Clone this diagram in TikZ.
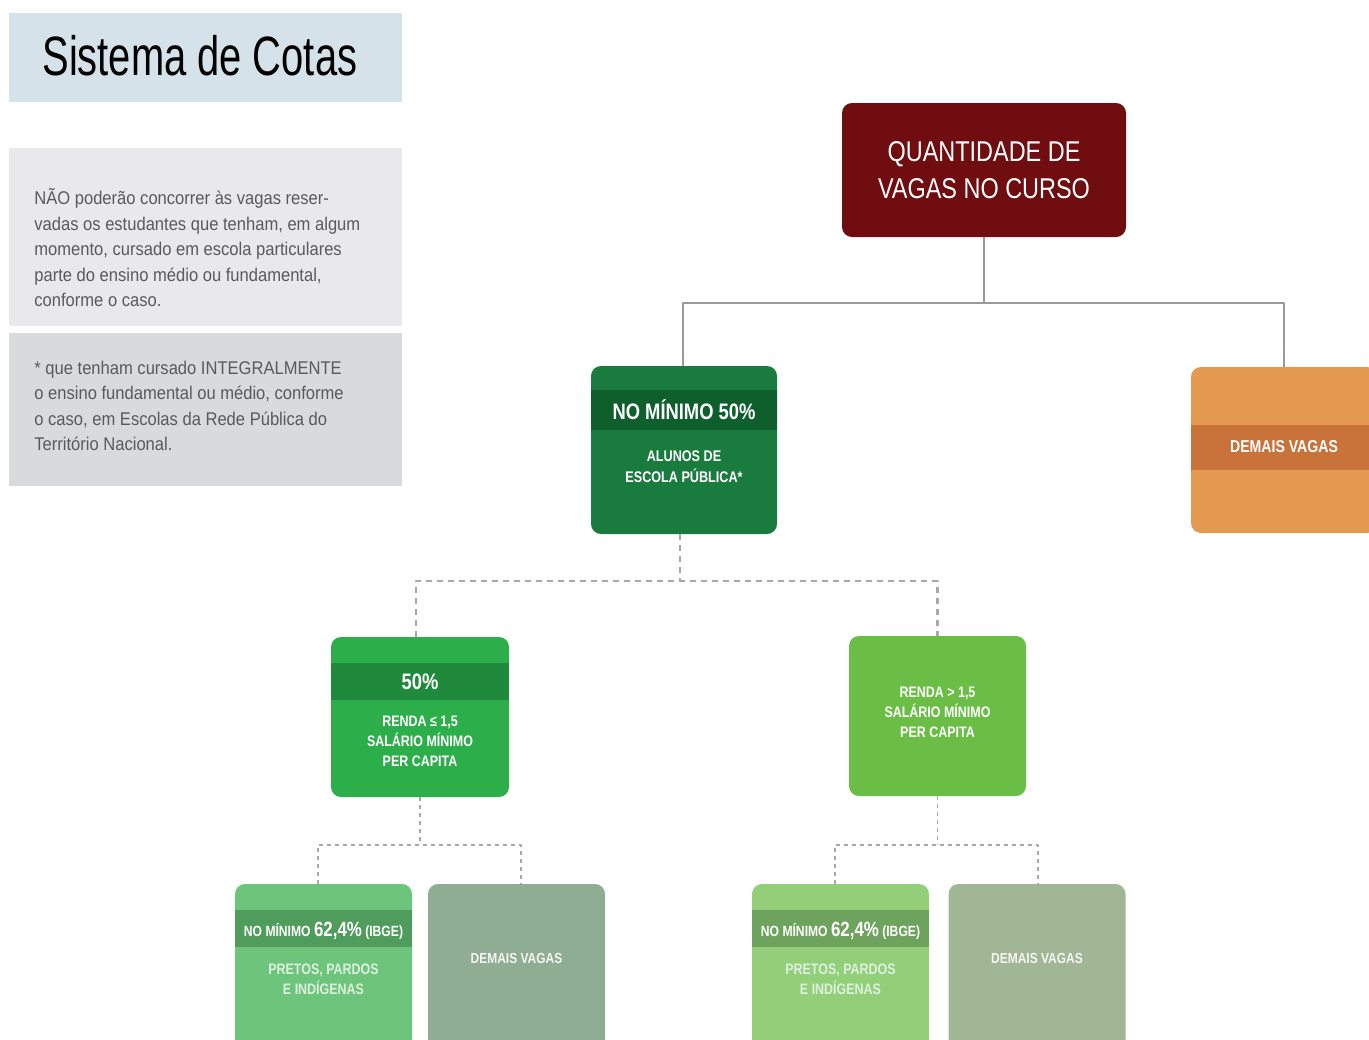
\documentclass[tikz,border=0pt]{standalone}
\usepackage{fontspec}
\setmainfont{Liberation Sans}
\newfontfamily\narrowfont{Liberation Sans}[FakeStretch=0.82]
\newfontfamily\titlefont{Liberation Sans}[FakeStretch=0.72]
\newfontfamily\panelfont{Liberation Sans}[FakeStretch=0.9]
\usetikzlibrary{positioning}
\definecolor{titlebg}{HTML}{D5E2E9}
\definecolor{notebg}{HTML}{E9E9EB}
\definecolor{starbg}{HTML}{D9DADC}
\definecolor{paneltxt}{HTML}{5A5A5A}
\definecolor{qred}{HTML}{6F0D10}
\definecolor{linegray}{HTML}{9A9A9A}
\definecolor{dashgray}{HTML}{A8A8A8}
\definecolor{pubgreen}{HTML}{1A7B3F}
\definecolor{pubband}{HTML}{0F5F2D}
\definecolor{restorange}{HTML}{E39A50}
\definecolor{restband}{HTML}{C9733B}
\definecolor{lowgreen}{HTML}{2CAE4B}
\definecolor{lowband}{HTML}{1F8A3B}
\definecolor{highgreen}{HTML}{6ABD45}
\definecolor{ppaone}{HTML}{6CC57B}
\definecolor{ppbandone}{HTML}{4F9C5C}
\definecolor{dvone}{HTML}{8EAD92}
\definecolor{ppatwo}{HTML}{93CF79}
\definecolor{ppbandtwo}{HTML}{6EA35D}
\definecolor{dvtwo}{HTML}{A1B694}
\definecolor{softtxt}{HTML}{DDF0DF}
\begin{document}
\begin{tikzpicture}[x=0.5pt, y=-0.5pt, line join=round,
	every node/.style={inner sep=0pt},
	panel/.style={minimum width=196.5pt},
	paneltext/.style={anchor=west, align=left, text=paneltxt, font=\panelfont\fontsize{9.2}{12.75}\selectfont},
	vbox/.style={rounded corners=5pt},
	head/.style={text=white, font=\narrowfont\bfseries\fontsize{11.2}{13}\selectfont},
	body/.style={text=white, align=center, font=\narrowfont\bfseries\fontsize{7.6}{10}\selectfont},
	solidline/.style={draw=linegray, line width=1.4pt},
	dashline/.style={draw=dashgray, line width=1.3pt, dash pattern=on 3pt off 2.5pt},
	dotline/.style={draw=dashgray, line width=0.6pt, dash pattern=on 2pt off 2pt}]
	\useasboundingbox (0,0) rectangle (1369,1039);
	% left panels
	\node[panel, fill=titlebg, minimum height=44.5pt] (title) at (205.5,57.5) {};
	\node[anchor=west, font=\titlefont\fontsize{27.7}{30}\selectfont] (titletext) at (42,56) {Sistema de Cotas};
	\node[panel, fill=notebg, minimum height=89pt] (note) at (205.5,237) {};
	\node[paneltext] (notetext) at (34,248) {NÃO poderão concorrer às vagas reser-\\vadas os estudantes que tenham, em algum\\momento, cursado em escola particulares\\parte do ensino médio ou fundamental,\\conforme o caso.};
	\node[panel, fill=starbg, minimum height=76.5pt] (star) at (205.5,409.5) {};
	\node[paneltext] (startext) at (34,406) {* que tenham cursado INTEGRALMENTE\\o ensino fundamental ou médio, conforme\\o caso, em Escolas da Rede Pública do\\Território Nacional.};
	% top
	\node[vbox, fill=qred, minimum width=142pt, minimum height=67pt, text=white, align=center,
		font=\narrowfont\fontsize{14.3}{18.5}\selectfont] (total) at (984,170) {QUANTIDADE DE\\VAGAS NO CURSO};
	% second level
	\node[vbox, fill=pubgreen, minimum width=93pt, minimum height=84pt] (pub) at (684,450) {};
	\fill[pubband] ([yshift=-12pt]pub.north west) rectangle ([yshift=-32pt]pub.north east);
	\node[head] (pubhead) at ([yshift=-22pt]pub.north) {NO MÍNIMO 50\%};
	\node[body, font=\narrowfont\bfseries\fontsize{7.7}{10.5}\selectfont] (pubtext) at ([yshift=-50.75pt]pub.north) {ALUNOS DE\\ESCOLA PÚBLICA*};
	\node[vbox, fill=restorange, minimum width=93pt, minimum height=83pt] (rest) at (1284,450) {};
	\fill[restband] ([yshift=-29pt]rest.north west) rectangle ([yshift=-51.5pt]rest.north east);
	\node[body, font=\narrowfont\bfseries\fontsize{8.6}{10}\selectfont] (resttext) at ([yshift=-40pt]rest.north) {DEMAIS VAGAS};
	% third level
	\node[vbox, fill=lowgreen, minimum width=89pt, minimum height=80pt] (low) at (420,717) {};
	\fill[lowband] ([yshift=-13pt]low.north west) rectangle ([yshift=-31.5pt]low.north east);
	\node[head] (lowhead) at ([yshift=-22.5pt]low.north) {50\%};
	\node[body] (lowtext) at ([yshift=-52.5pt]low.north) {RENDA ≤ 1,5\\SALÁRIO MÍNIMO\\PER CAPITA};
	\node[vbox, fill=highgreen, minimum width=88.5pt, minimum height=80pt] (high) at (937.5,716) {};
	\node[body] (hightext) at ([yshift=-38.5pt]high.north) {RENDA > 1,5\\SALÁRIO MÍNIMO\\PER CAPITA};
	% fourth level
	\foreach \n/\xc/\fc/\bc in {ppone/323.5/ppaone/ppbandone, pptwo/840.5/ppatwo/ppbandtwo}{
		\node[vbox, fill=\fc, minimum width=88.5pt, minimum height=90pt] (\n) at (\xc,974) {};
		\fill[\bc] ([yshift=-13pt]\n.north west) rectangle ([yshift=-31.5pt]\n.north east);
		\node[text=white, font=\narrowfont\bfseries\fontsize{7.4}{9}\selectfont] (\n head) at ([yshift=-23.5pt]\n.north)
			{NO MÍNIMO {\fontsize{10.3}{11}\selectfont 62,4\%} (IBGE)};
		\node[body, text=softtxt] (\n text) at ([yshift=-48pt]\n.north) {PRETOS, PARDOS\\E INDÍGENAS};
	}
	\foreach \n/\xc/\fc in {dvone/516.5/dvone, dvtwo/1037/dvtwo}{
		\node[vbox, fill=\fc, minimum width=88.5pt, minimum height=90pt] (\n) at (\xc,974) {};
		\node[body, text=white!92!gray, font=\narrowfont\bfseries\fontsize{7.3}{9}\selectfont] (\n text) at ([yshift=-37.5pt]\n.north) {DEMAIS VAGAS};
	}
	% connectors
	\coordinate (jtop) at (984,303);
	\draw[solidline] (total.south) -- (jtop);
	\draw[solidline] ([xshift=-0.5pt]pub.north) |- (jtop) -| (rest.north);
	\coordinate (jpub) at (680,581);
	\draw[dashline] ([xshift=-2pt]pub.south) -- (jpub);
	\draw[dashline] ([xshift=-2pt]low.north) |- (jpub) -| (high.north);
	\coordinate (jlow) at (420,845);
	\draw[dotline] (low.south) -- (jlow);
	\draw[dotline] ([xshift=-2.75pt]ppone.north) |- (jlow) -| ([xshift=2.25pt]dvone.north);
	\coordinate (jhigh) at (937.5,845);
	\draw[dotline] (high.south) -- (jhigh);
	\draw[dotline] ([xshift=-2.75pt]pptwo.north) |- (jhigh) -| ([xshift=0.5pt]dvtwo.north);
\end{tikzpicture}
\end{document}
